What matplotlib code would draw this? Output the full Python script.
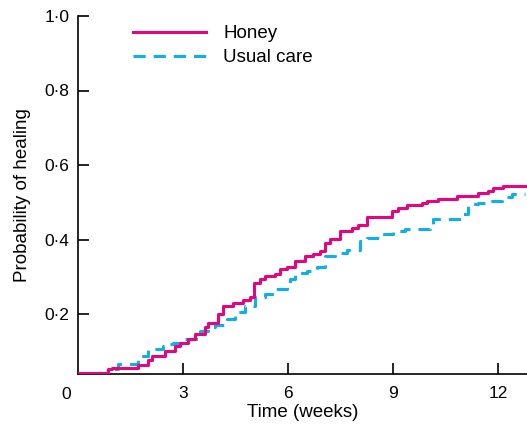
import matplotlib
matplotlib.use("Agg")
import matplotlib.pyplot as plt
import matplotlib.transforms as mtransforms

plt.rcParams['font.family'] = ['Liberation Sans', 'DejaVu Sans']

# Kaplan-Meier style step data (time in weeks, probability of healing)
honey_t = [0, 0.86, 0.97, 1.71, 2.0, 2.11, 2.49, 2.77, 2.91, 3.14, 3.34, 3.63, 3.71, 4.0, 4.14,
           4.43, 4.71, 4.91, 5.03, 5.2, 5.34, 5.63, 5.77, 5.97, 6.2, 6.49, 6.71, 6.91, 7.06, 7.2,
           7.49, 7.83, 8.0, 8.26, 8.97, 9.14, 9.4, 9.83, 9.97, 10.29, 10.83, 11.43, 11.71, 11.86,
           12.14, 12.77]
honey_p = [0.042, 0.052, 0.055, 0.063, 0.077, 0.087, 0.101, 0.114, 0.122, 0.133, 0.146, 0.165,
           0.176, 0.2, 0.221, 0.23, 0.238, 0.246, 0.283, 0.294, 0.302, 0.307, 0.321, 0.326, 0.342,
           0.356, 0.361, 0.369, 0.39, 0.401, 0.423, 0.431, 0.439, 0.46, 0.477, 0.485, 0.493, 0.498,
           0.503, 0.509, 0.517, 0.525, 0.53, 0.538, 0.544, 0.544]

usual_t = [0, 0.86, 1.14, 1.71, 1.86, 2.0, 2.43, 2.63, 2.71, 2.97, 3.49, 3.71, 3.91, 4.26, 4.49,
           4.77, 5.06, 5.34, 5.63, 5.97, 6.06, 6.2, 6.54, 6.83, 7.06, 7.34, 7.69, 8.06, 8.26, 8.63,
           9.0, 9.34, 10.06, 10.14, 10.97, 11.14, 11.43, 11.71, 12.11, 12.4, 12.77]
usual_p = [0.042, 0.052, 0.066, 0.079, 0.087, 0.106, 0.114, 0.119, 0.122, 0.133, 0.154, 0.165,
           0.17, 0.187, 0.205, 0.221, 0.246, 0.254, 0.267, 0.283, 0.294, 0.31, 0.315, 0.326, 0.356,
           0.364, 0.372, 0.396, 0.404, 0.415, 0.423, 0.428, 0.436, 0.455, 0.468, 0.495, 0.498,
           0.503, 0.514, 0.522, 0.522]

x_ticks = [3, 6, 9, 12]
y_ticks = [0.2, 0.4, 0.6, 0.8, 1.0]
y_labels = ['0·2', '0·4', '0·6', '0·8', '1·0']

fig = plt.figure(figsize=(5.27, 4.32), dpi=100)
ax = fig.add_axes([78 / 527, 1 - 374 / 432, 449 / 527, (374 - 16) / 432])

ax.step(honey_t, honey_p, where='post', color='#E6057F', lw=2.2, label='Honey', zorder=3)
ax.step(usual_t, usual_p, where='post', color='#0DB0EC', lw=2.2, linestyle=(0, (4, 2.6)),
        label='Usual care', zorder=2)

ax.set_xlim(0, 449 / 35)
ax.set_ylim(1.0 - (374 - 16) / 372.5, 1.0)

for s in ['top', 'right']:
    ax.spines[s].set_visible(False)
for s in ['left', 'bottom']:
    ax.spines[s].set_linewidth(1.2)

ax.set_xticks(x_ticks)
ax.set_xticklabels([str(v) for v in x_ticks])
ax.set_yticks(y_ticks)
ax.set_yticklabels(y_labels)
ax.tick_params(axis='both', direction='in', length=8, width=1.2, labelsize=12.5)
ax.tick_params(axis='x', pad=9)
ax.tick_params(axis='y', pad=6)

# "0" label at origin, shifted left
off = mtransforms.ScaledTranslation(-12 / 100, 0, fig.dpi_scale_trans)
ax.text(0, -0.035, '0', transform=ax.get_xaxis_transform() + off, ha='center', va='top',
        fontsize=12.5)

ax.set_xlabel('Time (weeks)', fontsize=13.5, labelpad=2)
ax.set_ylabel('Probability of healing', fontsize=13.5, labelpad=10)

ax.legend(loc='upper left', bbox_to_anchor=(0.085, 1.022), frameon=False, fontsize=13.5,
          handlelength=3.9, handletextpad=0.9, labelspacing=0.38)

fig.savefig('out.png', dpi=100)
